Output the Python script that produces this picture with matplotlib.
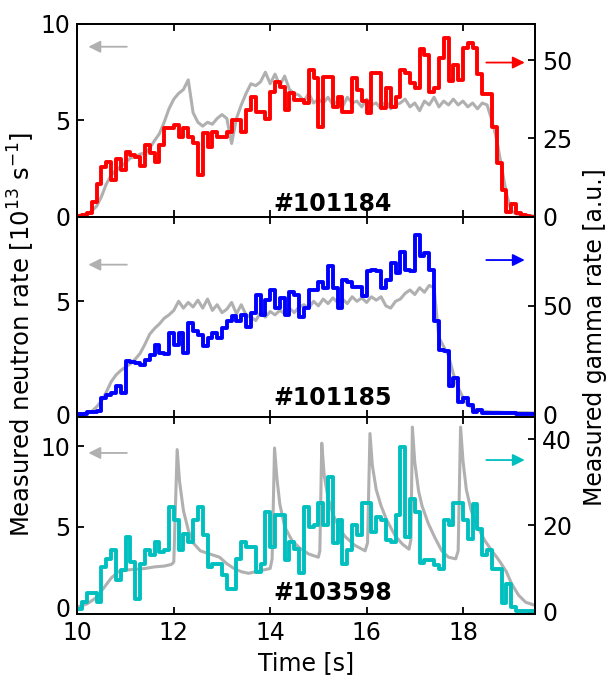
import numpy as np
import matplotlib
matplotlib.use('Agg')
import matplotlib.pyplot as plt

plt.rcParams['font.family'] = ['DejaVu Sans']
plt.rcParams['font.size'] = 17
plt.rcParams['axes.linewidth'] = 1.3

# Zeitraster (Messwerte alle 0.1 s)
T0 = 10.0
DT = 0.1
t_neut = np.round(T0 + DT * np.arange(96), 2)   # 10.0 .. 19.5
t_gam = np.round(T0 + DT * np.arange(95), 2)    # Bin-Anfang 10.0 .. 19.4
T_END = 19.5

# Schuss 101184
neut_101184 = [0.05, 0.1, 0.15, 0.3, 0.55, 1.05, 1.7, 2.15, 2.4, 2.6,
               2.8, 3.05, 3.1, 3.25, 3.3, 3.55, 3.95, 4.3, 4.9, 5.6,
               6.1, 6.4, 6.6, 7.1, 5.4, 4.9, 4.7, 4.9, 4.8, 5.1,
               5.3, 5.1, 3.8, 5.1, 5.8, 6.4, 6.9, 6.8, 7.0, 7.5,
               6.9, 7.4, 6.8, 7.3, 6.6, 6.4, 6.3, 6.0, 6.4, 5.9,
               6.1, 5.9, 6.2, 5.8, 6.0, 5.7, 6.2, 5.9, 6.0, 5.7,
               6.1, 5.8, 5.9, 5.6, 6.0, 5.6, 5.8, 5.9, 6.1, 5.7,
               5.9, 5.5, 6.0, 5.8, 6.2, 5.7, 6.0, 5.8, 6.1, 5.8,
               6.0, 5.7, 5.9, 5.6, 5.9, 5.8, 5.0, 4.0, 2.6, 1.2,
               0.3, 0.15, 0.1, 0.05, 0.05, 0.03]
gam_101184 = [0.3, 0.5, 1.3, 4.8, 10.6, 16.0, 17.6, 11.7, 18.3, 14.9,
              20.8, 19.7, 19.2, 16.2, 22.9, 20.2, 17.6, 22.9, 28.2, 28.2,
              29.3, 25.5, 28.2, 25.5, 23.4, 13.3, 26.6, 22.4, 27.1, 25.5,
              25.5, 27.1, 30.9, 30.9, 27.1, 34.1, 38.3,
              33.5, 33.5, 31.1, 39.9, 43.1, 41.5, 34.1, 39.4, 37.3, 37.3,
              36.2, 46.8, 44.2, 28.7, 44.7, 44.7, 35.1, 38.3, 33.5, 33.5,
              44.2, 40.5, 36.8, 33.0, 45.8, 45.8, 34.6, 41.0, 35.1, 38.3,
              46.8, 45.8, 42.6, 41.0, 53.5, 51.6, 39.9, 41.0, 50.5, 57.0,
              43.3, 48.4, 43.6,
              53.8, 55.4, 53.8, 45.7, 39.2, 39.2, 28.5, 17.2, 8.6, 1.6,
              4.1, 1.1, 0.5, 0.2, 0.0]

# Schuss 101185
neut_101185 = [0.05, 0.05, 0.08, 0.15, 0.35, 0.6, 1.0, 1.45, 1.75, 1.95,
               2.1, 2.25, 2.45, 2.7, 3.1, 3.55, 3.8, 4.0, 4.25, 4.4,
               4.6, 5.0, 4.7, 4.95, 4.75, 5.05, 4.7, 5.1, 4.6, 4.85,
               4.5, 4.65, 4.95, 4.45, 4.85, 4.4, 4.3, 4.15, 4.5, 4.3,
               4.55, 4.4, 4.6, 4.45, 4.7, 4.5, 4.75, 4.85, 4.7, 5.0,
               4.8, 5.1, 4.9, 5.15, 4.95, 5.1, 4.9, 5.2, 5.0, 5.15,
               4.95, 5.2, 5.05, 5.2, 4.8, 4.7, 5.0, 5.1, 5.35, 5.5,
               5.3, 5.6, 5.4, 5.7, 5.6, 3.4, 3.0, 2.6, 1.8, 1.2,
               0.75, 0.45, 0.28, 0.2, 0.16, 0.14, 0.12, 0.12, 0.11, 0.1,
               0.1, 0.1, 0.09, 0.09, 0.08, 0.08]
gam_101185 = [0.2, 0.2, 0.8, 0.8, 1.5, 7.4, 8.9, 9.7, 12.8, 9.7,
              24.4, 24.2, 23.8, 22.8, 25.1, 27.4, 32.0, 28.2, 28.0, 37.4,
              32.0, 37.4, 28.2, 42.1, 38.2, 36.5, 31.6, 35.1, 37.4, 35.1,
              39.8, 42.9, 45.2, 42.9, 45.9, 40.5, 46.7,
              55.2, 45.9, 52.9, 57.5, 49.0, 53.6, 45.9, 56.7, 55.2, 45.1,
              49.0, 57.5, 57.5, 61.3, 58.3, 68.3, 58.3, 49.0, 62.1, 61.3,
              59.0, 59.0, 54.4, 66.0, 66.8, 66.0, 58.3, 62.1, 69.8, 65.2,
              75.2, 66.8, 66.0, 82.9, 72.9, 74.4, 66.8, 42.9, 29.8, 29.1,
              12.9, 16.5, 5.7, 7.3, 4.2, 1.1, 1.9, 0.5, 0.4, 0.4,
              0.3, 0.3, 0.3, 0.3, 0.2, 0.2, 0.2, 0.2]

# Schuss 103598 (Neutronen mit ungleichmaessigem Raster wegen der Spitzen)
t_neut_103598 = [10.0, 10.2, 10.4, 10.55, 10.7, 10.85, 11.0, 11.2, 11.4, 11.6,
                 11.8, 11.95, 12.0, 12.07, 12.12, 12.2, 12.3, 12.4, 12.55, 12.75,
                 12.95, 13.1, 13.25, 13.4, 13.55, 13.7, 13.85, 14.0, 14.04, 14.09,
                 14.14, 14.2, 14.3, 14.45, 14.6, 14.8, 15.0, 15.03, 15.07, 15.12,
                 15.2, 15.3, 15.42, 15.55, 15.75, 15.97, 16.02, 16.07, 16.12, 16.2,
                 16.3, 16.42, 16.6, 16.75, 16.88, 16.92, 16.95, 17.0, 17.08, 17.15,
                 17.28, 17.42, 17.56, 17.7, 17.85, 17.9, 17.95, 18.0, 18.07, 18.17,
                 18.3, 18.45, 18.6, 18.75, 18.9, 19.0, 19.15, 19.3, 19.5]
neut_103598 = [0.0, 0.2, 0.6, 1.2, 1.8, 2.2, 2.3, 2.35, 2.4, 2.5,
               2.55, 2.65, 2.8, 9.8, 7.8, 6.0, 4.8, 4.0, 3.5, 3.3,
               3.1, 2.7, 2.4, 2.2, 2.1, 2.2, 2.3, 2.4, 3.0, 9.9,
               8.0, 6.4, 5.0, 4.15, 3.7, 3.3, 3.1, 3.5, 10.2, 8.2,
               6.8, 5.8, 5.0, 4.4, 3.85, 3.5, 4.0, 10.8, 8.8, 7.3,
               6.3, 5.4, 4.4, 3.9, 3.6, 4.2, 11.2, 9.0, 7.2, 6.3,
               5.2, 4.3, 3.5, 3.1, 3.0, 3.5, 11.2, 9.1, 7.3, 6.0,
               5.0, 4.15, 3.5, 2.9, 2.2, 1.5, 0.75, 0.3, 0.1]
gam_103598 = [0.7, 2.2, 4.4, 4.4, 2.2, 10.4, 12.3, 14.2, 7.3, 9.6,
              17.3, 11.5, 3.0, 11.1, 14.2, 13.1, 16.2, 13.8, 14.4, 24.3,
              21.2, 14.2, 18.1, 16.2, 21.2, 24.3, 17.7, 10.4, 11.1, 11.1,
              8.4, 5.3, 5.3, 12.3, 16.2, 15.0, 15.0,
              9.2, 11.1, 23.1, 15.0, 22.3, 22.3, 11.9, 16.2, 14.6, 9.0,
              24.3, 19.6, 20.0, 25.1, 20.0,
              31.2, 16.0, 21.2, 11.1, 14.2, 20.0, 17.7, 25.1, 25.1, 18.5,
              21.9, 21.2, 16.5, 16.2, 22.3, 38.2, 17.3, 26.2, 23.1, 11.2,
              11.9, 11.9, 10.8, 10.0, 21.2, 20.0, 25.2, 25.2, 21.2, 16.9,
              25.0, 19.2, 13.1, 14.2, 10.0, 10.0, 2.1, 6.4, 1.2, 0.2,
              0.2, 0.2, 0.2]

GREY = '#b0b0b0'

panels = [
    dict(shot='#101184', tn=t_neut, n=neut_101184, g=gam_101184, color='#ff0000',
         rect=[0.1273, 0.6794, 0.7531, 0.2851], ylim=(0, 10), y2lim=(0, 61.5),
         yticks=[0, 5, 10], y2ticks=[0, 25, 50], arr_n=0.882, arr_g=0.80, ty=0.031),
    dict(shot='#101185', tn=t_neut, n=neut_101185, g=gam_101185, color='#0000ff',
         rect=[0.1273, 0.3827, 0.7531, 0.2967], ylim=(-0.115, 8.73), y2lim=(-1.5, 91.3),
         yticks=[0, 5], y2ticks=[0, 50], arr_n=0.761, arr_g=0.784, ty=0.06),
    dict(shot='#103598', tn=t_neut_103598, n=neut_103598, g=gam_103598, color='#00bfbf',
         rect=[0.1273, 0.0913, 0.7531, 0.2914], ylim=(-0.45, 11.81), y2lim=(-0.6, 45.05),
         yticks=[0, 5, 10], y2ticks=[0, 20, 40], arr_n=0.819, arr_g=0.783, ty=0.071),
]

fig = plt.figure(figsize=(6.08, 6.76), dpi=100)

for i, p in enumerate(panels):
    ax = fig.add_axes(p['rect'])
    ax2 = ax.twinx()

    # Neutronenrate (links, grau)
    ax.plot(p['tn'], p['n'], color=GREY, lw=2.2)
    # Gammarate (rechts, Stufen)
    xs = np.append(t_gam, T_END)
    ys = np.append(p['g'], p['g'][-1])
    ax2.step(xs, ys, where='post', color=p['color'], lw=2.8)

    ax.set_xlim(10, 19.5)
    ax.set_ylim(*p['ylim'])
    ax2.set_ylim(*p['y2lim'])
    ax.set_xticks([10, 12, 14, 16, 18])
    ax.set_yticks(p['yticks'])
    ax2.set_yticks(p['y2ticks'])

    ax.tick_params(axis='both', direction='in', length=5, width=1.3, pad=5,
                   top=True, labelsize=17)
    ax2.tick_params(axis='y', direction='in', length=5, width=1.3, pad=5, labelsize=17)
    if i < 2:
        ax.tick_params(axis='x', labelbottom=False)

    # Pfeile zur Achsenzuordnung
    ax2.annotate('', xy=(0.024, p['arr_n']), xytext=(0.108, p['arr_n']),
                 xycoords='axes fraction',
                 arrowprops=dict(arrowstyle='-|>,head_length=0.6,head_width=0.3',
                                 color=GREY, lw=1.3, mutation_scale=12,
                                 shrinkA=0, shrinkB=0))
    ax2.annotate('', xy=(0.977, p['arr_g']), xytext=(0.893, p['arr_g']),
                 xycoords='axes fraction',
                 arrowprops=dict(arrowstyle='-|>,head_length=0.6,head_width=0.3',
                                 color=p['color'], lw=1.3, mutation_scale=12,
                                 shrinkA=0, shrinkB=0))

    ax2.text(0.557, p['ty'], p['shot'], transform=ax.transAxes, ha='center',
             va='baseline', fontsize=17, fontweight='bold')

    if i == 2:
        ax.set_xlabel('Time [s]', fontsize=17, labelpad=4)

fig.text(0.035, 0.505, 'Measured neutron rate [10$^{13}$ s$^{-1}$]', rotation=90,
         ha='center', va='center', fontsize=17.5)
fig.text(0.978, 0.502, 'Measured gamma rate [a.u.]', rotation=90,
         ha='center', va='center', fontsize=17)

fig.savefig('out.png', dpi=100)
